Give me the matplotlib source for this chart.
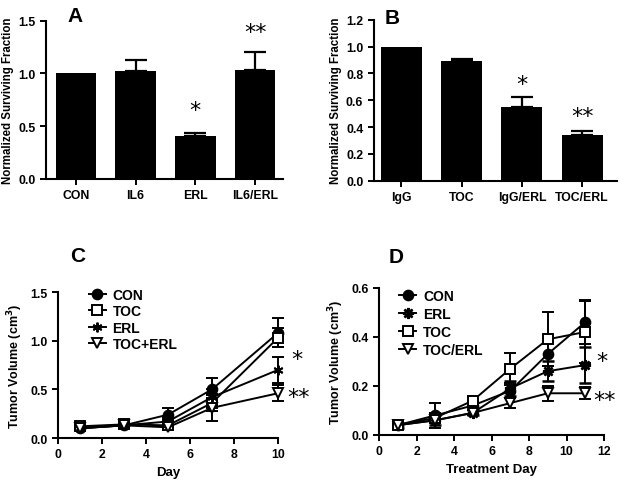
import matplotlib
matplotlib.use('Agg')
import matplotlib.pyplot as plt

plt.rcParams['font.family'] = ['Liberation Sans', 'DejaVu Sans']
plt.rcParams['font.weight'] = 'bold'
plt.rcParams['axes.labelweight'] = 'bold'

# panel A
a_labels = ['CON', 'IL6', 'ERL', 'IL6/ERL']
a_vals = [1.0, 1.02, 0.41, 1.03]
a_err = [0.0, 0.11, 0.03, 0.17]
a_stars = {2: ('*', 0.65), 3: ('**', 1.39)}

# panel B
b_labels = ['IgG', 'TOC', 'IgG/ERL', 'TOC/ERL']
b_vals = [1.0, 0.89, 0.55, 0.34]
b_err = [0.0, 0.02, 0.07, 0.03]
b_stars = {2: ('*', 0.72), 3: ('**', 0.48)}

# panel C
c_days = [1, 3, 5, 7, 10]
c_con = [0.10, 0.13, 0.24, 0.50, 1.08]
c_con_err = [0.02, 0.02, 0.07, 0.12, 0.15]
c_toc = [0.12, 0.14, 0.13, 0.36, 1.03]
c_toc_err = [0.02, 0.02, 0.03, 0.08, 0.10]
c_erl = [0.10, 0.13, 0.17, 0.42, 0.70]
c_erl_err = [0.02, 0.02, 0.04, 0.08, 0.13]
c_te = [0.10, 0.13, 0.11, 0.31, 0.46]
c_te_err = [0.02, 0.02, 0.03, 0.14, 0.08]

# panel D
d_days = [1, 3, 5, 7, 9, 11]
d_con = [0.04, 0.08, 0.12, 0.18, 0.33, 0.46]
d_con_err = [0.01, 0.05, 0.02, 0.03, 0.05, 0.09]
d_erl = [0.04, 0.06, 0.09, 0.19, 0.26, 0.285]
d_erl_err = [0.01, 0.02, 0.01, 0.03, 0.04, 0.075]
d_toc = [0.04, 0.07, 0.14, 0.27, 0.39, 0.42]
d_toc_err = [0.01, 0.02, 0.02, 0.065, 0.11, 0.125]
d_te = [0.04, 0.06, 0.09, 0.13, 0.17, 0.17]
d_te_err = [0.01, 0.01, 0.01, 0.02, 0.03, 0.025]

fig = plt.figure(figsize=(6.24, 4.81), dpi=100)

star_font = dict(fontsize=16, fontweight='normal', family='DejaVu Sans',
                 ha='center', va='center', clip_on=False)


def style(ax):
    for s in ['top', 'right']:
        ax.spines[s].set_visible(False)
    for s in ['left', 'bottom']:
        ax.spines[s].set_linewidth(1.5)
    ax.tick_params(direction='out', length=4, width=1.4, labelsize=8.8)


def bars(ax, labels, vals, err, stars, ymax, yticks):
    x = list(range(len(vals)))
    ax.bar(x, vals, width=0.68, color='black')
    # only bars with a real error get an (upper) error bar
    xi = [i for i in x if err[i] > 0]
    ax.errorbar(xi, [vals[i] for i in xi],
                yerr=[[0] * len(xi), [err[i] for i in xi]], fmt='none',
                ecolor='black', elinewidth=1.6, capsize=8, capthick=1.6)
    for i, (s, y) in stars.items():
        ax.text(i, y, s, **star_font)
    ax.set_xticks(x)
    ax.set_xticklabels(labels)
    ax.set_ylim(0, ymax)
    ax.set_yticks(yticks)
    ax.set_yticklabels(['%.1f' % t for t in yticks])
    ax.set_ylabel('Normalized Surviving Fraction', fontsize=8.3, labelpad=3)
    style(ax)


axA = fig.add_axes([0.0737, 0.6258, 0.380, 0.329])
bars(axA, a_labels, a_vals, a_err, a_stars, 1.5, [0.0, 0.5, 1.0, 1.5])
axA.set_xlim(-0.5, 3.47)
fig.text(0.121, 0.965, 'A', fontsize=15, fontweight='bold', ha='center', va='center')

axB = fig.add_axes([0.599, 0.6223, 0.389, 0.3347])
bars(axB, b_labels, b_vals, b_err, b_stars, 1.2, [0.0, 0.2, 0.4, 0.6, 0.8, 1.0, 1.2])
axB.set_xlim(-0.46, 3.57)
fig.text(0.628, 0.962, 'B', fontsize=15, fontweight='bold', ha='center', va='center')


def lines(ax, days, series, anchor, spacing):
    handles, names = [], []
    for vals, err, mk, mfc, mw, ms, lab in series:
        c = ax.errorbar(days, vals, yerr=err, color='black', marker=mk, mfc=mfc,
                        mec='black', ms=ms, mew=mw, lw=1.4, elinewidth=1.4,
                        capsize=4.5, capthick=1.4, clip_on=False)
        for art in c.lines[1] + c.lines[2]:
            art.set_clip_on(False)
        handles.append(c.lines[0])
        names.append(lab)
    style(ax)
    ax.set_ylabel('Tumor Volume (cm$^\\mathbf{3}$)', fontsize=9)
    ax.legend(handles, names, loc='upper left', bbox_to_anchor=anchor,
              frameon=False, fontsize=10, handlelength=1.2, handletextpad=0.5,
              labelspacing=spacing, borderaxespad=0, borderpad=0)


axC = fig.add_axes([0.093, 0.0873, 0.3526, 0.3035])
lines(axC, c_days, [
    (c_con, c_con_err, 'o', 'black', 1.4, 7, 'CON'),
    (c_toc, c_toc_err, 's', 'white', 1.4, 7, 'TOC'),
    (c_erl, c_erl_err, (6, 2, 0), 'black', 1.4, 7, 'ERL'),
    (c_te, c_te_err, 'v', 'white', 1.4, 7, 'TOC+ERL'),
], (0.14, 1.03), 0.18)
axC.set_xlim(0, 10)
axC.set_ylim(0, 1.5)
axC.set_xticks([0, 2, 4, 6, 8, 10])
axC.set_yticks([0.0, 0.5, 1.0, 1.5])
axC.set_yticklabels(['0.0', '0.5', '1.0', '1.5'])
axC.set_xlabel('Day', fontsize=9.5)
axC.text(10.85, 0.81, '*', **star_font)
axC.text(10.95, 0.42, '**', **star_font)
fig.text(0.125, 0.466, 'C', fontsize=15, fontweight='bold', ha='center', va='center')

axD = fig.add_axes([0.6074, 0.0936, 0.3606, 0.306])
lines(axD, d_days, [
    (d_con, d_con_err, 'o', 'black', 1.4, 7, 'CON'),
    (d_erl, d_erl_err, (8, 2, 0), 'black', 1.8, 8, 'ERL'),
    (d_toc, d_toc_err, 's', 'white', 1.4, 7, 'TOC'),
    (d_te, d_te_err, 'v', 'white', 1.4, 7, 'TOC/ERL'),
], (0.09, 0.99), 0.28)
axD.set_xlim(0, 12)
axD.set_ylim(0, 0.6)
axD.set_xticks([0, 2, 4, 6, 8, 10, 12])
axD.set_yticks([0.0, 0.2, 0.4, 0.6])
axD.set_yticklabels(['0.0', '0.2', '0.4', '0.6'])
axD.set_xlabel('Treatment Day', fontsize=9.5)
axD.text(11.9, 0.30, '*', **star_font)
axD.text(12.0, 0.142, '**', **star_font)
fig.text(0.635, 0.464, 'D', fontsize=15, fontweight='bold', ha='center', va='center')

plt.savefig('out.png', dpi=100)
